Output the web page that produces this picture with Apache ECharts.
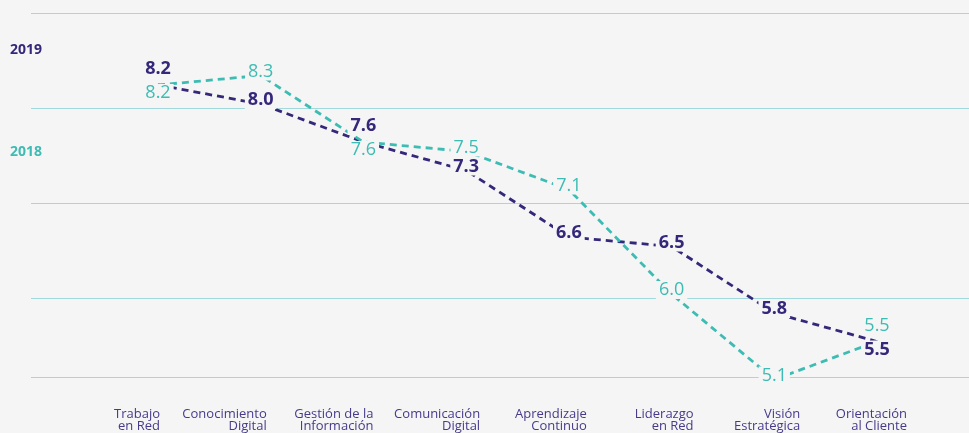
<!DOCTYPE html>
<html>
<head>
<meta charset="utf-8">
<script src="https://cdn.jsdelivr.net/npm/echarts@6/dist/echarts.min.js"></script>
<style>
  html, body { margin: 0; padding: 0; background: #f5f5f5; }
  #chart { width: 969px; height: 433px; }
</style>
</head>
<body>
<div id="chart"></div>
<script>
// datos: competencias digitales, promedio por año
const categories = [
  'Trabajo\nen Red', 'Conocimiento\nDigital', 'Gestión de la\nInformación', 'Comunicación\nDigital',
  'Aprendizaje\nContinuo', 'Liderazgo\nen Red', 'Visión\nEstratégica', 'Orientación\nal Cliente'
]
const seriesNames = ['2019', '2018']
const values2019 = [8.2, 8.0, 7.6, 7.3, 6.6, 6.5, 5.8, 5.5]
const values2018 = [8.2, 8.3, 7.6, 7.5, 7.1, 6.0, 5.1, 5.5]

const DARK = '#35287a'
const TEAL = '#3dbcb3'
const BG = '#f5f5f5'
const GRID_LINE = '#a3d9dd'
const FONT = '"Open Sans", "Noto Sans", sans-serif'

function neighbourMean(arr, i) {
  const n = []
  if (i > 0) n.push(arr[i - 1])
  if (i < arr.length - 1) n.push(arr[i + 1])
  return n.reduce((a, b) => a + b, 0) / n.length
}

// si ambos años empatan, separar etiquetas: la serie con vecinos más altos va abajo
function tieOffset(own, other, i) {
  if (own[i] !== other[i]) return 0
  return neighbourMean(own, i) > neighbourMean(other, i) ? 12 : -12
}

function buildSeries(name, own, other, color, bold) {
  return {
    name: name,
    type: 'line',
    xAxisIndex: 1,
    yAxisIndex: 1,
    data: own.map((v, i) => ({
      value: v,
      label: { offset: [0, -4 + tieOffset(own, other, i)] }
    })),
    symbol: 'circle',
    symbolSize: 2,
    showSymbol: true,
    itemStyle: { color: color },
    lineStyle: { color: color, width: 2.8, type: [7, 5] },
    label: {
      show: true,
      position: 'inside',
      color: color,
      fontSize: 18,
      fontWeight: bold ? 'bold' : 'normal',
      fontFamily: FONT,
      backgroundColor: BG,
      padding: [0, 3],
      formatter: (p) => Number(p.value).toFixed(1)
    },
    emphasis: { disabled: true },
    animation: false
  }
}

const chart = echarts.init(document.getElementById('chart'), null, { renderer: 'canvas' })

const option = {
  backgroundColor: BG,
  animation: false,
  grid: [
    { left: 31, right: 0, top: 13, bottom: 56 },      // líneas de fondo
    { left: 158, right: 92, top: 56.5, bottom: 44 },  // datos
    { left: 160, right: 62, top: 13, bottom: 56 }     // etiquetas de categorías
  ],
  xAxis: [
    { gridIndex: 0, type: 'value', show: false },
    { gridIndex: 1, type: 'category', data: categories, boundaryGap: false, show: false },
    {
      gridIndex: 2,
      type: 'category',
      data: categories,
      boundaryGap: false,
      axisLine: { show: false, onZero: false },
      axisTick: { show: false },
      axisLabel: {
        interval: 0,
        align: 'right',
        margin: 33,
        color: '#463a8a',
        fontSize: 13,
        lineHeight: 12.5,
        fontFamily: FONT
      }
    }
  ],
  yAxis: [
    {
      gridIndex: 0,
      type: 'value',
      inverse: true,
      min: 0,
      max: 364 / 95,
      interval: 1,
      axisLine: { show: false },
      axisTick: { show: false },
      axisLabel: { show: false },
      splitLine: { show: true, lineStyle: { color: GRID_LINE, width: 1 } }
    },
    { gridIndex: 1, type: 'value', min: 5, max: 8.5, show: false },
    { gridIndex: 2, type: 'value', show: false }
  ],
  graphic: seriesNames.map((n, i) => ({
    type: 'text',
    left: 10,
    top: i === 0 ? 43 : 145,
    style: {
      text: n,
      fill: i === 0 ? DARK : TEAL,
      font: 'bold 14px ' + FONT
    }
  })),
  series: [
    buildSeries(seriesNames[0], values2019, values2018, DARK, true),
    buildSeries(seriesNames[1], values2018, values2019, TEAL, false)
  ]
}

chart.setOption(option)
</script>
</body>
</html>
